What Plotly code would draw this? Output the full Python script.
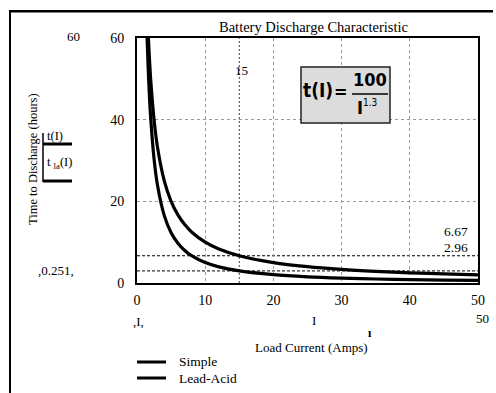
import plotly.graph_objects as go

# ---- data ----
I_simple = [1.67, 1.85, 2, 2.5, 3, 4, 5, 6, 7, 8, 10, 12, 15, 20, 25, 30, 35, 40, 45, 50]
t_simple = [60, 54.1, 50, 40, 33.3, 25, 20, 16.7, 14.3, 12.5, 10, 8.33, 6.67, 5, 4, 3.33, 2.86, 2.5, 2.22, 2]
I_la = [1.48, 1.75, 2, 2.5, 3, 4, 5, 6, 7, 8, 10, 12, 15, 20, 25, 30, 35, 40, 45, 50]
t_la = [60, 48.3, 40.6, 30.4, 24.0, 16.5, 12.3, 9.74, 7.97, 6.70, 5.01, 3.95, 2.96, 2.04, 1.52, 1.20, 0.98, 0.83, 0.71, 0.62]
marker_I = 15
marker_levels = [6.67, 2.96]
x_ticks = [0, 10, 20, 30, 40, 50]
y_ticks = [0, 20, 40, 60]
series_names = ["Simple", "Lead-Acid"]

W, H = 496, 393
X0, X1, Y0, Y1 = 137, 478, 38, 283
def px(x):
    return (x - X0) / (X1 - X0)
def py(y):
    return (Y1 - y) / (Y1 - Y0)

SERIF = "Liberation Serif, Times New Roman, serif"
SANS = "DejaVu Sans Condensed, Liberation Sans, Arial, sans-serif"

fig = go.Figure()
fig.add_trace(go.Scatter(x=I_simple, y=t_simple, mode="lines", name=series_names[0],
                         line=dict(color="black", width=3.2, shape="spline")))
fig.add_trace(go.Scatter(x=I_la, y=t_la, mode="lines", name=series_names[1],
                         line=dict(color="black", width=3.2, shape="spline")))

shapes = []
# marker lines
shapes.append(dict(type="line", xref="x", yref="y", x0=marker_I, x1=marker_I, y0=0, y1=60,
                   line=dict(color="#444", width=1, dash="2px,2px"), layer="below"))
for lv in marker_levels:
    shapes.append(dict(type="line", xref="x", yref="y", x0=0, x1=50, y0=lv, y1=lv,
                       line=dict(color="black", width=1, dash="3px,2px"), layer="below"))
# formula box
shapes.append(dict(type="rect", xref="paper", yref="paper", x0=px(301), x1=px(390), y0=py(123), y1=py(67),
                   fillcolor="#dcdcdc", line=dict(color="#222", width=1.5)))
shapes.append(dict(type="line", xref="paper", yref="paper", x0=px(352), x1=px(388), y0=py(94), y1=py(94),
                   line=dict(color="black", width=1.5)))
# outer frame (left and top) as thin filled bars
shapes.append(dict(type="rect", xref="paper", yref="paper", x0=px(9), x1=px(11), y0=py(393), y1=py(10),
                   fillcolor="black", line=dict(width=0)))
shapes.append(dict(type="rect", xref="paper", yref="paper", x0=px(9), x1=px(493), y0=py(12.5), y1=py(10),
                   fillcolor="black", line=dict(width=0)))
# y legend lines
shapes.append(dict(type="line", xref="paper", yref="paper", x0=px(43), x1=px(43), y0=py(133), y1=py(182),
                   line=dict(color="black", width=1.5)))
shapes.append(dict(type="line", xref="paper", yref="paper", x0=px(43), x1=px(72), y0=py(144), y1=py(144),
                   line=dict(color="black", width=3)))
shapes.append(dict(type="line", xref="paper", yref="paper", x0=px(43), x1=px(72), y0=py(181), y1=py(181),
                   line=dict(color="black", width=3)))
# legend lines
shapes.append(dict(type="line", xref="paper", yref="paper", x0=px(137), x1=px(166), y0=py(362), y1=py(362),
                   line=dict(color="black", width=3)))
shapes.append(dict(type="line", xref="paper", yref="paper", x0=px(137), x1=px(166), y0=py(378), y1=py(378),
                   line=dict(color="black", width=3)))

def ann(text, x, y, size=12, family=SERIF, xanchor="center", **kw):
    return dict(text=text, x=px(x), y=py(y), xref="paper", yref="paper", showarrow=False,
                xanchor=xanchor, yanchor="middle", font=dict(family=family, size=size, color="black"), **kw)

annotations = [
    ann("Battery Discharge Characteristic", 313, 27, size=14.5),
    ann("60", 73, 37, size=13),
    ann("15", 241, 70, size=13),
    ann("6.67", 470, 231, size=13.5, xanchor="right"),
    ann("2.96", 470, 247, size=13.5, xanchor="right"),
    ann(",0.251,", 56, 270, size=13),
    ann(",I,", 138, 321, size=13),
    ann("I", 314, 320, size=13),
    ann("50", 482, 318, size=13),
    ann("<b>ı</b>", 370, 333, size=12),
    ann("Load Current (Amps)", 311, 347, size=13),
    ann("Time to Discharge (hours)", 33, 159, size=12.5, textangle=-90),
    ann("t(I)", 55, 136, size=12.5),
    ann("t <sub>la</sub>(I)", 59, 163, size=12.5),
    ann(series_names[0], 177, 362, size=13.5, xanchor="left"),
    ann(series_names[1], 177, 378, size=13.5, xanchor="left"),
    ann("<b>t(I)</b>", 318, 90, size=19, family=SANS),
    ann("<b>=</b>", 341, 91, size=18, family=SANS),
    ann("<b>100</b>", 370, 80, size=18, family=SANS),
    ann("<b>I</b><sup><span style='font-size:10px'>1.3</span></sup>", 367, 107, size=18, family=SANS),
]

fig.update_layout(
    width=W, height=H,
    margin=dict(l=X0, r=W - X1, t=Y0, b=H - Y1, pad=0),
    paper_bgcolor="white", plot_bgcolor="white",
    showlegend=False,
    shapes=shapes, annotations=annotations,
    font=dict(family=SERIF, size=13, color="black"),
)
fig.update_xaxes(range=[0, 50], tickvals=x_ticks, showgrid=True, gridcolor="#999", griddash="dot",
                 gridwidth=1, zeroline=False, showline=True, linecolor="black", linewidth=2, mirror=True,
                 ticks="outside", ticklen=3, tickcolor="rgba(0,0,0,0)",
                 tickfont=dict(family=SERIF, size=14, color="black"))
fig.update_yaxes(range=[0, 60], tickvals=y_ticks, showgrid=True, gridcolor="#999", griddash="dot",
                 gridwidth=1, zeroline=False, showline=True, linecolor="black", linewidth=2, mirror=True,
                 ticks="outside", ticklen=8, tickcolor="rgba(0,0,0,0)",
                 tickfont=dict(family=SERIF, size=14, color="black"))

fig.write_html("out.html", config={"displayModeBar": False},
               post_script="document.body.style.margin='0';document.body.style.padding='0';")
